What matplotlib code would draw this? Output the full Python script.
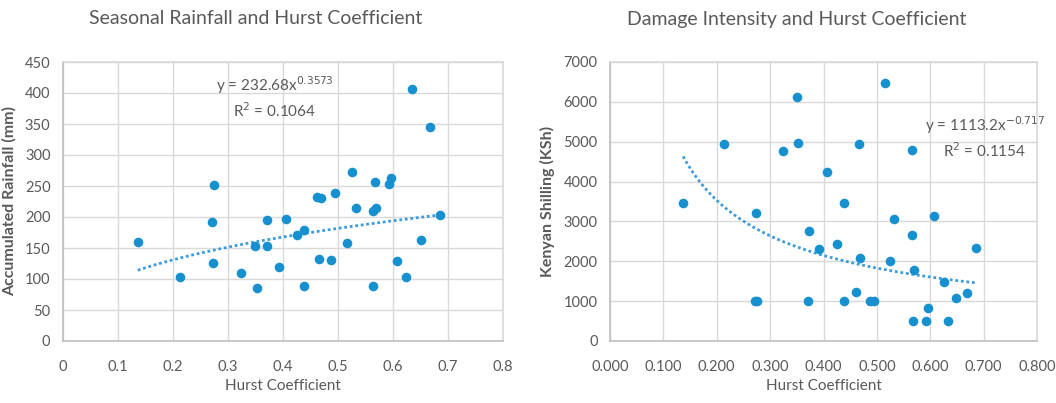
"""Hurst coefficient vs seasonal rainfall and damage intensity, with power trendlines."""

import numpy as np
import matplotlib

matplotlib.use("Agg")
import matplotlib.pyplot as plt
from matplotlib.ticker import FormatStrFormatter

plt.rcParams["font.family"] = ["Lato", "DejaVu Sans"]

# left panel: Hurst coefficient vs accumulated seasonal rainfall (mm)
rain_h = [0.136, 0.212, 0.271, 0.272, 0.275, 0.324, 0.349, 0.353, 0.370, 0.371,
          0.392, 0.406, 0.425, 0.439, 0.439, 0.462, 0.465, 0.469, 0.488, 0.495,
          0.516, 0.525, 0.532, 0.564, 0.564, 0.567, 0.569, 0.593, 0.596, 0.607,
          0.624, 0.634, 0.650, 0.668, 0.686]
rain_mm = [159, 103, 192, 126, 252, 109, 153, 86, 195, 154,
           119, 196, 171, 179, 88, 233, 132, 231, 130, 238,
           158, 273, 215, 209, 89, 257, 214, 253, 263, 129,
           103, 406, 163, 345, 203]
rain_coef, rain_exp, rain_r2 = 232.68, 0.3573, 0.1064

# right panel: Hurst coefficient vs damage (Kenyan shilling)
dmg_h = [0.137, 0.214, 0.272, 0.273, 0.276, 0.325, 0.350, 0.353, 0.371, 0.372,
         0.391, 0.407, 0.426, 0.439, 0.439, 0.461, 0.466, 0.469, 0.487, 0.494,
         0.516, 0.525, 0.532, 0.565, 0.566, 0.567, 0.569, 0.592, 0.596, 0.607,
         0.625, 0.633, 0.649, 0.669, 0.685]
dmg_ksh = [3450, 4950, 1000, 3200, 1000, 4770, 6110, 4960, 1000, 2750,
           2310, 4240, 2440, 3450, 1000, 1220, 4940, 2080, 1000, 1000,
           6470, 2015, 3050, 2650, 4790, 490, 1790, 490, 840, 3130,
           1490, 490, 1070, 1210, 2335]
dmg_coef, dmg_exp, dmg_r2 = 1113.2, -0.717, 0.1154

DOT = "#1790d0"
TREND = "#3b9bdb"
TXT = "#595959"
GRID = "#d9d9d9"

fig = plt.figure(figsize=(10.56, 4.03), dpi=100)
ax1 = fig.add_axes([63 / 1056, 62 / 403, 440 / 1056, 279 / 403])
ax2 = fig.add_axes([610 / 1056, 62 / 403, 427 / 1056, 279 / 403])


def style(ax):
    ax.grid(True, color=GRID, linewidth=1)
    ax.set_axisbelow(True)
    for side, sp in ax.spines.items():
        sp.set_color("#bfbfbf" if side in ("left", "bottom") else GRID)
        sp.set_linewidth(1.2)
    ax.tick_params(length=0, colors=TXT, labelsize=10.5)
    ax.tick_params(axis="x", pad=14)
    ax.tick_params(axis="y", pad=9)


def panel(ax, xs, ys, coef, expo, r2, title, ylabel, eq_xy):
    style(ax)
    ax.scatter(xs, ys, s=48, color=DOT, zorder=3, linewidths=0)
    xx = np.linspace(min(xs), max(xs), 100)
    ax.plot(xx, coef * xx ** expo, linestyle=(0, (1, 1)), color=TREND, linewidth=2, zorder=2)
    # the chart title is centred on the whole chart box, a bit left of the plot area
    ax.set_title(title, color=TXT, fontsize=14, pad=27, x=0.438)
    ax.set_xlabel("Hurst Coefficient", color=TXT, fontsize=11, labelpad=3)
    ax.set_ylabel(ylabel, color=TXT, fontsize=11.5, fontweight="bold", labelpad=6)
    ax.text(eq_xy[0], eq_xy[1], f"y = {coef}x$^{{{expo}}}$\nR$^2$ = {r2}",
            color=TXT, fontsize=11, ha="center", va="center", linespacing=1.35)


panel(ax1, rain_h, rain_mm, rain_coef, rain_exp, rain_r2,
      "Seasonal Rainfall and Hurst Coefficient", "Accumulated Rainfall (mm)", (0.385, 393))
ax1.set_xlim(0, 0.8)
ax1.set_ylim(0, 450)
ax1.set_xticks(np.arange(0, 0.81, 0.1))
ax1.set_xticklabels(["0", "0.1", "0.2", "0.3", "0.4", "0.5", "0.6", "0.7", "0.8"])
ax1.set_yticks(np.arange(0, 451, 50))

panel(ax2, dmg_h, dmg_ksh, dmg_coef, dmg_exp, dmg_r2,
      "Damage Intensity and Hurst Coefficient", "Kenyan Shilling (KSh)", (0.702, 5120))
ax2.set_xlim(0, 0.8)
ax2.set_ylim(0, 7000)
ax2.set_xticks(np.arange(0, 0.81, 0.1))
ax2.xaxis.set_major_formatter(FormatStrFormatter("%.3f"))
ax2.set_yticks(np.arange(0, 7001, 1000))

fig.savefig("out.png", dpi=100)
